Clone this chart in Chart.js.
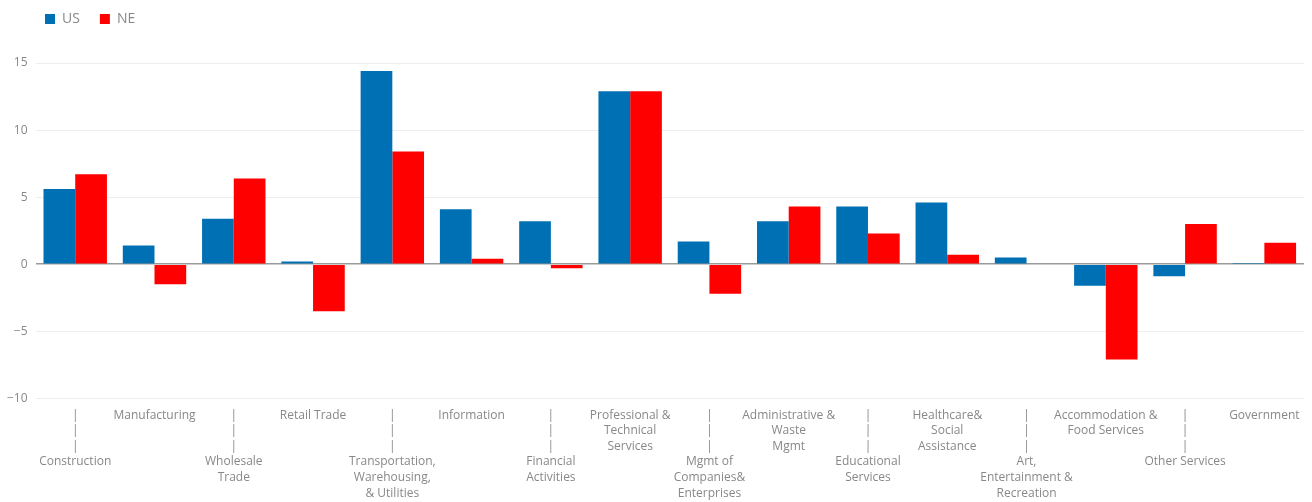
<!DOCTYPE html>
<html>
<head>
<meta charset="utf-8">
<script src="https://cdn.jsdelivr.net/npm/chart.js@4"></script>
<style>
    html, body { margin: 0; padding: 0; background: #fff; }
    #wrap { width: 1312px; height: 502px; }
</style>
</head>
<body>
<div id="wrap"><canvas id="industryChange"></canvas></div>
<script>
const industries = [
    ['Construction'],
    ['Manufacturing'],
    ['Wholesale', 'Trade'],
    ['Retail Trade'],
    ['Transportation,', 'Warehousing,', '& Utilities'],
    ['Information'],
    ['Financial', 'Activities'],
    ['Professional &', 'Technical', 'Services'],
    ['Mgmt of', 'Companies&', 'Enterprises'],
    ['Administrative &', 'Waste', 'Mgmt'],
    ['Educational', 'Services'],
    ['Healthcare&', 'Social', 'Assistance'],
    ['Art,', 'Entertainment &', 'Recreation'],
    ['Accommodation &', 'Food Services'],
    ['Other Services'],
    ['Government']
]
const usData = [5.6, 1.4, 3.4, 0.2, 14.4, 4.1, 3.2, 12.9, 1.7, 3.2, 4.3, 4.6, 0.5, -1.6, -0.9, 0.1]
const neData = [6.7, -1.5, 6.4, -3.5, 8.4, 0.4, -0.3, 12.9, -2.2, 4.3, 2.3, 0.7, null, -7.1, 3.0, 1.6]
const yTicks = [-10, -5, 0, 5, 10, 15]

// every other label drops down a row, with a little stem above it
const tickLabels = industries.map((lines, i) => i % 2 === 0 ? ['|', '|', '|', ...lines] : lines)

const textGrey = '#888888'

const legendShift = {
    id: 'legendShift',
    beforeInit(chart) {
        const fit = chart.legend.fit
        chart.legend.fit = function () {
            fit.bind(chart.legend)()
            this.height += 19
        }
    },
    afterLayout(chart) {
        chart.legend.left += 26
        chart.legend.right += 26
        chart.legend.top -= 8
        chart.legend.bottom -= 8
    }
}

const context = document.getElementById('industryChange').getContext('2d')

new Chart(context, {
    type: 'bar',
    data: {
        labels: tickLabels,
        datasets: [{
            label: 'US',
            data: usData,
            backgroundColor: '#0070b4',
            barPercentage: 1.0,
            categoryPercentage: 0.8
        }, {
            label: 'NE',
            data: neData,
            backgroundColor: '#ff0000',
            barPercentage: 1.0,
            categoryPercentage: 0.8
        }]
    },
    plugins: [legendShift],
    options: {
        responsive: true,
        maintainAspectRatio: false,
        animation: false,
        layout: {
            padding: { left: -1, right: 8, top: 0, bottom: -8 }
        },
        plugins: {
            legend: {
                position: 'top',
                align: 'start',
                labels: {
                    boxWidth: 10,
                    boxHeight: 10,
                    padding: 20,
                    color: textGrey,
                    font: { family: 'Open Sans', size: 14 }
                }
            },
            tooltip: { enabled: false }
        },
        scales: {
            x: {
                grid: { display: false, drawTicks: false, tickLength: 0 },
                border: { display: false },
                ticks: {
                    autoSkip: false,
                    maxRotation: 0,
                    minRotation: 0,
                    padding: 9,
                    color: textGrey,
                    font: { family: 'Open Sans', size: 12, lineHeight: 1.3 }
                }
            },
            y: {
                min: yTicks[0],
                max: yTicks[yTicks.length - 1],
                afterBuildTicks: (axis) => {
                    axis.ticks = yTicks.map(v => ({ value: v }))
                },
                grid: {
                    drawTicks: false,
                    tickLength: 0,
                    color: (ctx) => ctx.tick && ctx.tick.value === 0 ? '#9a9a9a' : '#eeeeee',
                    lineWidth: (ctx) => ctx.tick && ctx.tick.value === 0 ? 1.5 : 1
                },
                border: { display: false },
                ticks: {
                    padding: 8,
                    color: textGrey,
                    font: { family: 'Open Sans', size: 12 },
                    callback: (value) => String(value).replace('-', '\u2212')
                }
            }
        }
    }
});
</script>
</body>
</html>
